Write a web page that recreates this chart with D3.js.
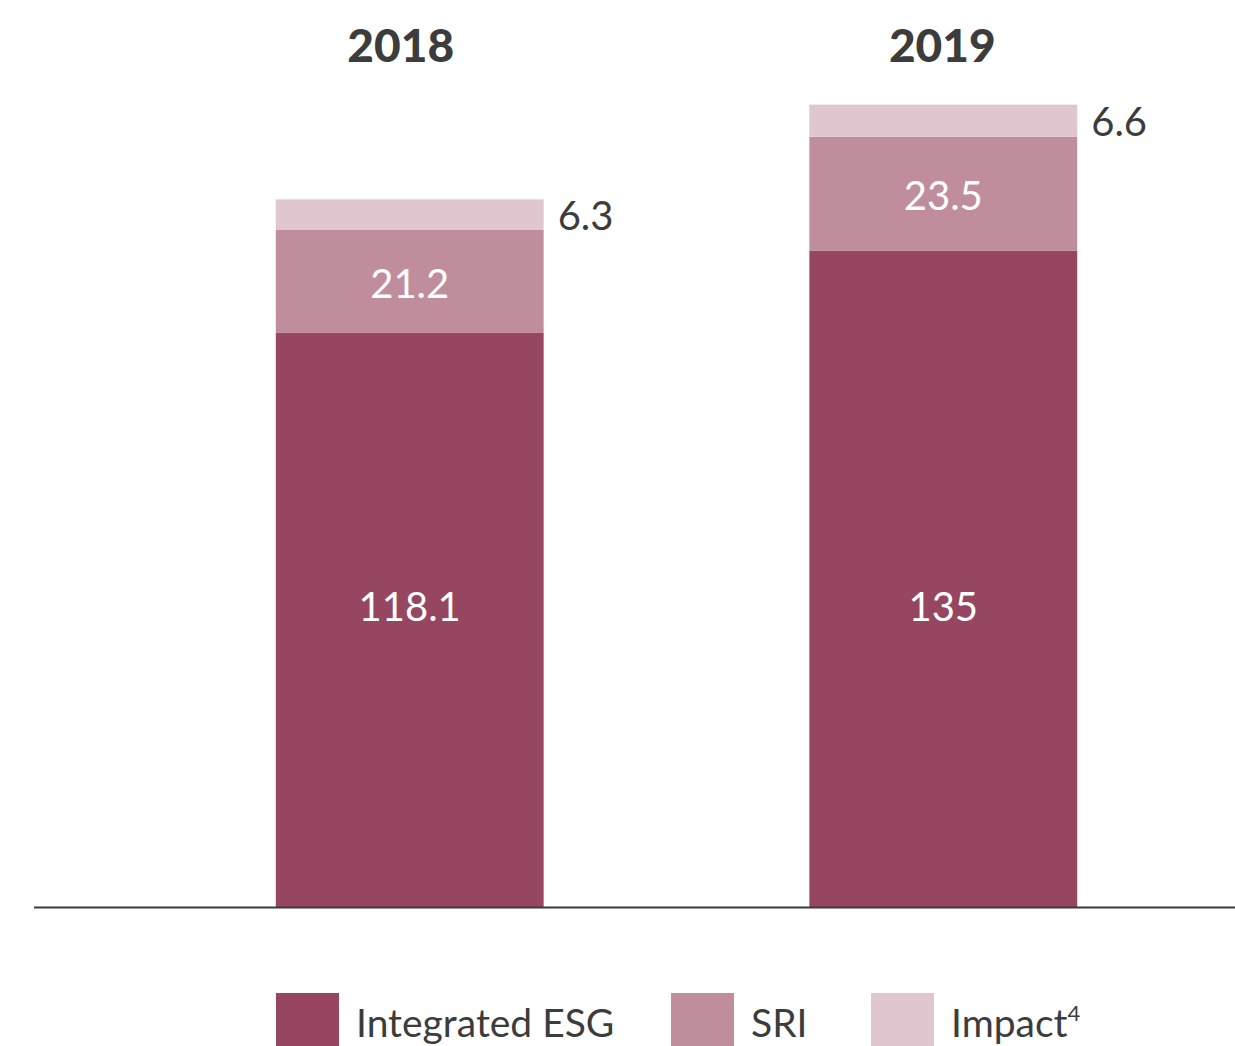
<!DOCTYPE html>
<html><head><meta charset="utf-8">
<script src="https://cdn.jsdelivr.net/npm/d3@7"></script>
<style>body{margin:0;background:#fff}svg{display:block}</style>
</head><body>
<script>
const years = ["2018", "2019"];
const seriesNames = ["Integrated ESG", "SRI", "Impact"];
const integratedESG = [118.1, 135];
const sri = [21.2, 23.5];
const impact = [6.3, 6.6];
const colors = ["#964660", "#c08d9c", "#dfc6cf"];

const W = 1235, H = 1046;
const svg = d3.select("body").append("svg").attr("width", W).attr("height", H);
const font = "Lato, 'Open Sans', sans-serif";
const txt = "#3c3c3c";

const data = years.map((y, i) => ({year: y, "Integrated ESG": integratedESG[i], "SRI": sri[i], "Impact": impact[i]}));
const stack = d3.stack().keys(seriesNames)(data);

const x = d3.scaleBand().domain(years).range([9, 1344]).paddingInner(0.498).paddingOuter(0.5);
const y = d3.scaleLinear().domain([0, 180]).range([907, 907 - 180 * 4.86]);

stack.forEach((s, si) => {
  svg.append("g").selectAll("rect").data(s).join("rect")
    .attr("x", d => x(d.data.year))
    .attr("width", x.bandwidth())
    .attr("y", d => y(d[1]))
    .attr("height", d => y(d[0]) - y(d[1]))
    .attr("fill", colors[si]);
});

// axis line
svg.append("line").attr("x1", 34).attr("x2", W).attr("y1", 907.5).attr("y2", 907.5)
  .attr("stroke", "#3a3a3a").attr("stroke-width", 2);

// year titles
const titleShift = [-9, -1];
svg.append("g").selectAll("text").data(years).join("text")
  .attr("x", (d, i) => x(d) + x.bandwidth() / 2 + titleShift[i])
  .attr("y", 62)
  .attr("text-anchor", "middle")
  .attr("font-family", font).attr("font-weight", 900).attr("font-size", 46)
  .attr("fill", txt).text(d => d);

// Integrated labels
const labelLevel = 62;
svg.append("g").selectAll("text").data(stack[0]).join("text")
  .attr("x", d => x(d.data.year) + x.bandwidth() / 2)
  .attr("y", y(labelLevel) + 15)
  .attr("text-anchor", "middle")
  .attr("font-family", font).attr("font-size", 40).attr("fill", "#fff")
  .text(d => d.data["Integrated ESG"]);

// SRI labels
svg.append("g").selectAll("text").data(stack[1]).join("text")
  .attr("x", d => x(d.data.year) + x.bandwidth() / 2)
  .attr("y", d => (y(d[0]) + y(d[1])) / 2 + 16)
  .attr("text-anchor", "middle")
  .attr("font-family", font).attr("font-size", 40).attr("fill", "#fff")
  .text(d => d.data["SRI"]);

// Impact labels
svg.append("g").selectAll("text").data(stack[2]).join("text")
  .attr("x", d => x(d.data.year) + x.bandwidth() + 14)
  .attr("y", d => (y(d[0]) + y(d[1])) / 2 + 15)
  .attr("font-family", font).attr("font-size", 40).attr("fill", txt)
  .text(d => d.data["Impact"]);

// legend
const legX = [276, 671, 871];
const lg = svg.append("g").selectAll("g").data(seriesNames).join("g")
  .attr("transform", (d, i) => `translate(${legX[i]},993)`);
lg.append("rect").attr("width", 63).attr("height", 53).attr("fill", (d, i) => colors[i]);
const lt = lg.append("text").attr("x", 80).attr("y", 44)
  .attr("font-family", font).attr("font-size", 39).attr("fill", txt)
  .text(d => d);
lt.filter(d => d === "Impact").append("tspan").attr("dy", -16).attr("font-size", 22).text("4");
</script>
</body></html>
